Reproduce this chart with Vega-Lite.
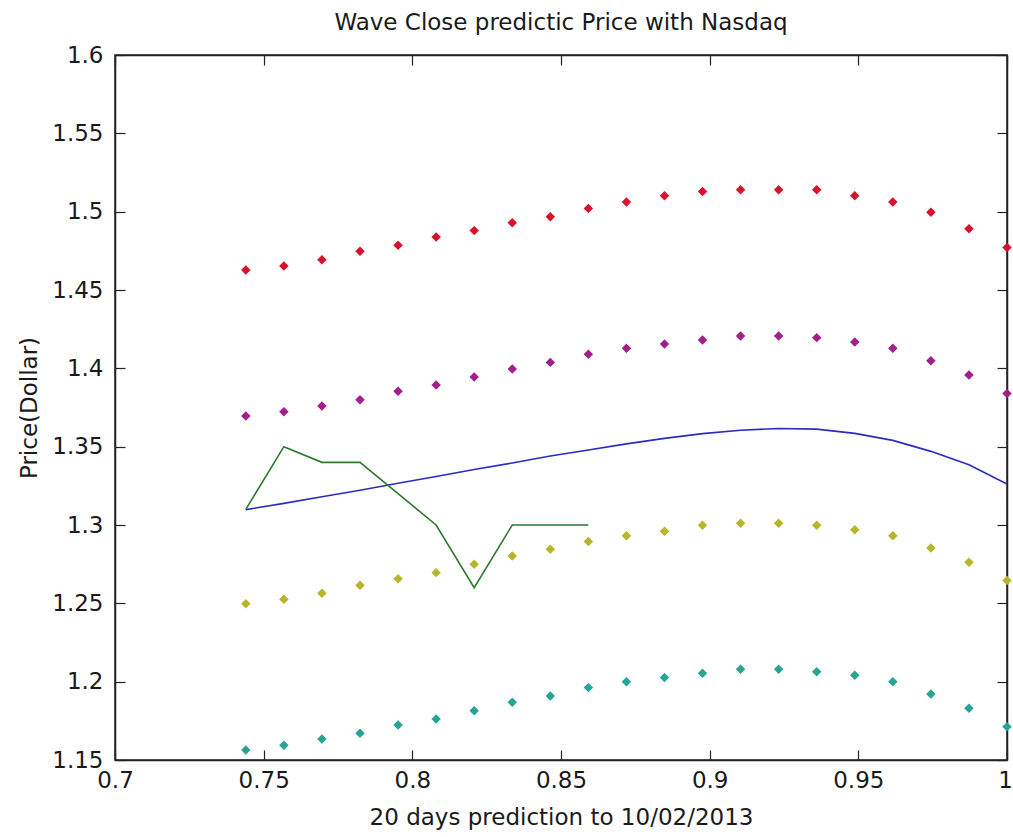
{
  "$schema": "https://vega.github.io/schema/vega-lite/v6.json",
  "width": 892,
  "height": 705,
  "autosize": {"type": "none"},
  "padding": {"left": 115, "top": 55, "right": 6, "bottom": 77},
  "background": "white",
  "title": {
    "text": "Wave Close predictic Price with Nasdaq",
    "font": "DejaVu Sans",
    "fontSize": 23,
    "fontWeight": "normal",
    "color": "#1a1a1a",
    "offset": 9
  },
  "config": {
    "view": {"stroke": "#222222", "strokeWidth": 1.5},
    "axis": {
      "labelFont": "DejaVu Sans",
      "labelFontSize": 23,
      "labelColor": "#1a1a1a",
      "labelFlush": false,
      "labelOverlap": false,
      "titleFont": "DejaVu Sans",
      "titleFontSize": 23,
      "titleFontWeight": "normal",
      "titleColor": "#1a1a1a",
      "tickColor": "#222222",
      "tickSize": -10,
      "tickWidth": 1.2,
      "domainColor": "#222222",
      "domainWidth": 1.5,
      "grid": false,
      "format": "~g"
    }
  },
  "datasets": {
    "bands": [
      {"x": 0.7440, "price": 1.4628, "band": "upper2"},
      {"x": 0.7568, "price": 1.4653, "band": "upper2"},
      {"x": 0.7696, "price": 1.4693, "band": "upper2"},
      {"x": 0.7824, "price": 1.4747, "band": "upper2"},
      {"x": 0.7952, "price": 1.4785, "band": "upper2"},
      {"x": 0.8080, "price": 1.4838, "band": "upper2"},
      {"x": 0.8208, "price": 1.4879, "band": "upper2"},
      {"x": 0.8336, "price": 1.4930, "band": "upper2"},
      {"x": 0.8464, "price": 1.4968, "band": "upper2"},
      {"x": 0.8592, "price": 1.5021, "band": "upper2"},
      {"x": 0.8720, "price": 1.5062, "band": "upper2"},
      {"x": 0.8848, "price": 1.5102, "band": "upper2"},
      {"x": 0.8976, "price": 1.5128, "band": "upper2"},
      {"x": 0.9104, "price": 1.5140, "band": "upper2"},
      {"x": 0.9232, "price": 1.5140, "band": "upper2"},
      {"x": 0.9360, "price": 1.5140, "band": "upper2"},
      {"x": 0.9488, "price": 1.5102, "band": "upper2"},
      {"x": 0.9616, "price": 1.5062, "band": "upper2"},
      {"x": 0.9744, "price": 1.4996, "band": "upper2"},
      {"x": 0.9872, "price": 1.4891, "band": "upper2"},
      {"x": 1.0000, "price": 1.4772, "band": "upper2"},
      {"x": 0.7440, "price": 1.3696, "band": "upper1"},
      {"x": 0.7568, "price": 1.3723, "band": "upper1"},
      {"x": 0.7696, "price": 1.3760, "band": "upper1"},
      {"x": 0.7824, "price": 1.3800, "band": "upper1"},
      {"x": 0.7952, "price": 1.3853, "band": "upper1"},
      {"x": 0.8080, "price": 1.3894, "band": "upper1"},
      {"x": 0.8208, "price": 1.3945, "band": "upper1"},
      {"x": 0.8336, "price": 1.3996, "band": "upper1"},
      {"x": 0.8464, "price": 1.4038, "band": "upper1"},
      {"x": 0.8592, "price": 1.4090, "band": "upper1"},
      {"x": 0.8720, "price": 1.4128, "band": "upper1"},
      {"x": 0.8848, "price": 1.4155, "band": "upper1"},
      {"x": 0.8976, "price": 1.4181, "band": "upper1"},
      {"x": 0.9104, "price": 1.4206, "band": "upper1"},
      {"x": 0.9232, "price": 1.4206, "band": "upper1"},
      {"x": 0.9360, "price": 1.4196, "band": "upper1"},
      {"x": 0.9488, "price": 1.4168, "band": "upper1"},
      {"x": 0.9616, "price": 1.4128, "band": "upper1"},
      {"x": 0.9744, "price": 1.4049, "band": "upper1"},
      {"x": 0.9872, "price": 1.3957, "band": "upper1"},
      {"x": 1.0000, "price": 1.3840, "band": "upper1"},
      {"x": 0.7440, "price": 1.2498, "band": "lower1"},
      {"x": 0.7568, "price": 1.2526, "band": "lower1"},
      {"x": 0.7696, "price": 1.2564, "band": "lower1"},
      {"x": 0.7824, "price": 1.2615, "band": "lower1"},
      {"x": 0.7952, "price": 1.2657, "band": "lower1"},
      {"x": 0.8080, "price": 1.2696, "band": "lower1"},
      {"x": 0.8208, "price": 1.2749, "band": "lower1"},
      {"x": 0.8336, "price": 1.2802, "band": "lower1"},
      {"x": 0.8464, "price": 1.2845, "band": "lower1"},
      {"x": 0.8592, "price": 1.2894, "band": "lower1"},
      {"x": 0.8720, "price": 1.2932, "band": "lower1"},
      {"x": 0.8848, "price": 1.2960, "band": "lower1"},
      {"x": 0.8976, "price": 1.2998, "band": "lower1"},
      {"x": 0.9104, "price": 1.3011, "band": "lower1"},
      {"x": 0.9232, "price": 1.3011, "band": "lower1"},
      {"x": 0.9360, "price": 1.2998, "band": "lower1"},
      {"x": 0.9488, "price": 1.2970, "band": "lower1"},
      {"x": 0.9616, "price": 1.2932, "band": "lower1"},
      {"x": 0.9744, "price": 1.2853, "band": "lower1"},
      {"x": 0.9872, "price": 1.2762, "band": "lower1"},
      {"x": 1.0000, "price": 1.2645, "band": "lower1"},
      {"x": 0.7440, "price": 1.1564, "band": "lower2"},
      {"x": 0.7568, "price": 1.1594, "band": "lower2"},
      {"x": 0.7696, "price": 1.1634, "band": "lower2"},
      {"x": 0.7824, "price": 1.1670, "band": "lower2"},
      {"x": 0.7952, "price": 1.1724, "band": "lower2"},
      {"x": 0.8080, "price": 1.1762, "band": "lower2"},
      {"x": 0.8208, "price": 1.1815, "band": "lower2"},
      {"x": 0.8336, "price": 1.1868, "band": "lower2"},
      {"x": 0.8464, "price": 1.1909, "band": "lower2"},
      {"x": 0.8592, "price": 1.1962, "band": "lower2"},
      {"x": 0.8720, "price": 1.2000, "band": "lower2"},
      {"x": 0.8848, "price": 1.2026, "band": "lower2"},
      {"x": 0.8976, "price": 1.2053, "band": "lower2"},
      {"x": 0.9104, "price": 1.2079, "band": "lower2"},
      {"x": 0.9232, "price": 1.2079, "band": "lower2"},
      {"x": 0.9360, "price": 1.2064, "band": "lower2"},
      {"x": 0.9488, "price": 1.2041, "band": "lower2"},
      {"x": 0.9616, "price": 1.2000, "band": "lower2"},
      {"x": 0.9744, "price": 1.1921, "band": "lower2"},
      {"x": 0.9872, "price": 1.1830, "band": "lower2"},
      {"x": 1.0000, "price": 1.1713, "band": "lower2"}
    ],
    "forecast": [
      {"x": 0.7440, "price": 1.3098},
      {"x": 0.7568, "price": 1.3138},
      {"x": 0.7696, "price": 1.3180},
      {"x": 0.7824, "price": 1.3222},
      {"x": 0.7952, "price": 1.3266},
      {"x": 0.8080, "price": 1.3310},
      {"x": 0.8208, "price": 1.3354},
      {"x": 0.8336, "price": 1.3396},
      {"x": 0.8464, "price": 1.3440},
      {"x": 0.8592, "price": 1.3479},
      {"x": 0.8720, "price": 1.3518},
      {"x": 0.8848, "price": 1.3553},
      {"x": 0.8976, "price": 1.3583},
      {"x": 0.9104, "price": 1.3605},
      {"x": 0.9232, "price": 1.3616},
      {"x": 0.9360, "price": 1.3612},
      {"x": 0.9488, "price": 1.3585},
      {"x": 0.9616, "price": 1.3540},
      {"x": 0.9744, "price": 1.3470},
      {"x": 0.9872, "price": 1.3385},
      {"x": 1.0000, "price": 1.3262}
    ],
    "actual": [
      {"x": 0.7440, "price": 1.31},
      {"x": 0.7568, "price": 1.35},
      {"x": 0.7696, "price": 1.34},
      {"x": 0.7824, "price": 1.34},
      {"x": 0.7952, "price": 1.32},
      {"x": 0.8080, "price": 1.30},
      {"x": 0.8208, "price": 1.26},
      {"x": 0.8336, "price": 1.30},
      {"x": 0.8464, "price": 1.30},
      {"x": 0.8592, "price": 1.30}
    ]
  },
  "layer": [
    {
      "data": {"name": "bands"},
      "mark": {"type": "point", "shape": "diamond", "filled": true, "size": 90, "opacity": 1},
      "encoding": {
        "x": {
          "field": "x", "type": "quantitative",
          "scale": {"domain": [0.7, 1.0], "nice": false, "zero": false},
          "axis": {
            "orient": "bottom",
            "title": "20 days prediction to 10/02/2013",
            "values": [0.7, 0.75, 0.8, 0.85, 0.9, 0.95, 1.0],
            "labelOffset": {"condition": {"test": "datum.value >= 1", "value": -2}, "value": 0},
            "labelPadding": 19,
            "titlePadding": 14
          }
        },
        "y": {
          "field": "price", "type": "quantitative",
          "scale": {"domain": [1.15, 1.6], "nice": false, "zero": false},
          "axis": {
            "orient": "left",
            "title": "Price(Dollar)",
            "values": [1.15, 1.2, 1.25, 1.3, 1.35, 1.4, 1.45, 1.5, 1.55, 1.6],
            "labelPadding": 22,
            "titlePadding": 10
          }
        },
        "color": {
          "field": "band", "type": "nominal", "legend": null,
          "scale": {
            "domain": ["upper2", "upper1", "lower1", "lower2"],
            "range": ["#d8122a", "#a21f8e", "#b8b52a", "#27a594"]
          }
        }
      }
    },
    {
      "data": {"name": "forecast"},
      "mark": {"type": "line", "color": "#2b2bc2", "strokeWidth": 1.6},
      "encoding": {
        "x": {"field": "x", "type": "quantitative", "scale": {"domain": [0.7, 1.0], "nice": false, "zero": false}, "axis": null},
        "y": {"field": "price", "type": "quantitative", "scale": {"domain": [1.15, 1.6], "nice": false, "zero": false}, "axis": null}
      }
    },
    {
      "data": {"name": "actual"},
      "mark": {"type": "line", "color": "#2c7a2c", "strokeWidth": 1.6},
      "encoding": {
        "x": {"field": "x", "type": "quantitative", "scale": {"domain": [0.7, 1.0], "nice": false, "zero": false}, "axis": null},
        "y": {"field": "price", "type": "quantitative", "scale": {"domain": [1.15, 1.6], "nice": false, "zero": false}, "axis": null}
      }
    },
    {
      "data": {"name": "actual"},
      "mark": {"type": "point", "opacity": 0},
      "encoding": {
        "x": {
          "field": "x", "type": "quantitative",
          "scale": {"domain": [0.7, 1.0], "nice": false, "zero": false},
          "axis": {"orient": "top", "title": null, "labels": false, "values": [0.7, 0.75, 0.8, 0.85, 0.9, 0.95, 1.0]}
        },
        "y": {
          "field": "price", "type": "quantitative",
          "scale": {"domain": [1.15, 1.6], "nice": false, "zero": false},
          "axis": {"orient": "right", "title": null, "labels": false, "values": [1.15, 1.2, 1.25, 1.3, 1.35, 1.4, 1.45, 1.5, 1.55, 1.6]}
        }
      }
    }
  ],
  "resolve": {"axis": {"x": "independent", "y": "independent"}}
}
